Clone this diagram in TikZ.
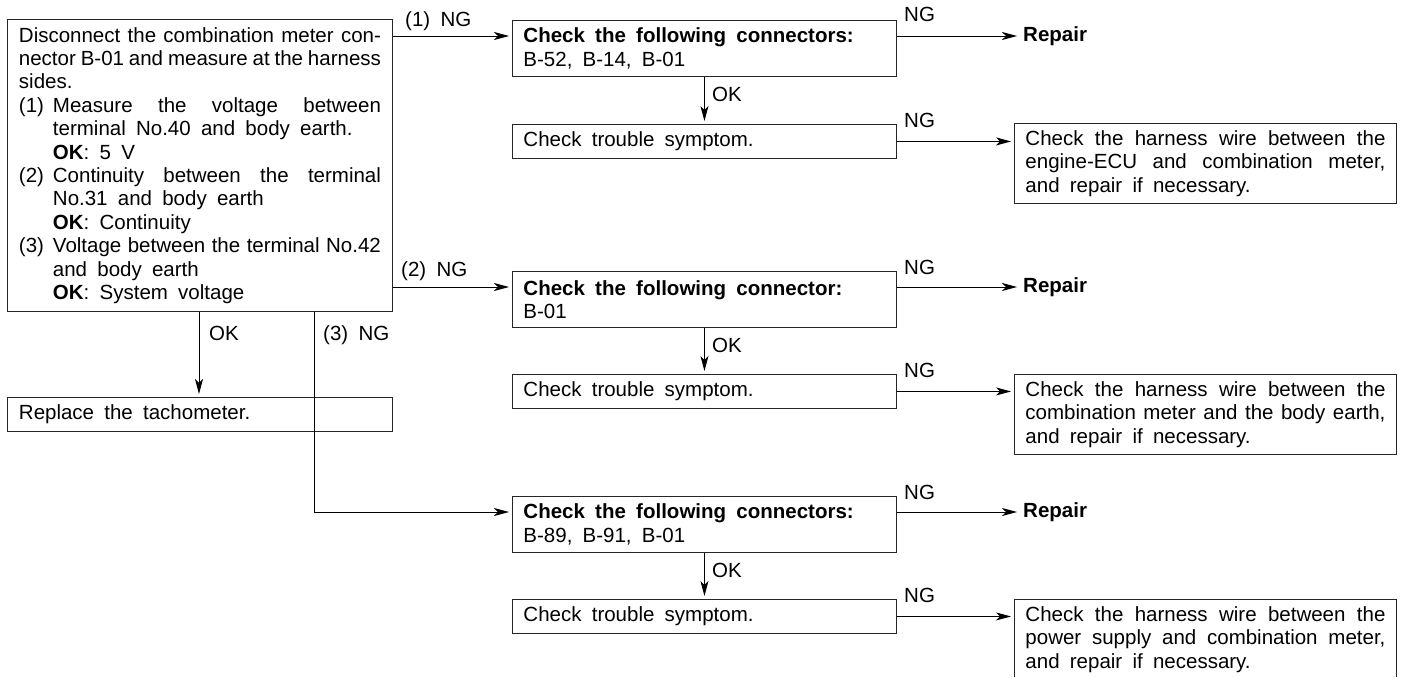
\documentclass[tikz,border=0pt]{standalone}
\usepackage{fontspec}
\setmainfont{Liberation Sans}
\usetikzlibrary{arrows.meta}
\newcommand\dfont{\fontsize{20.5}{23.4}\selectfont\spaceskip=0.5em plus 0.8em minus 0.27em\relax}
\begin{document}
\begin{tikzpicture}[x=1pt,y=-1pt,
  every node/.style={font=\dfont},
  box/.style={draw=black!85,line width=0.9pt,rectangle,anchor=north west,inner ysep=0pt,align=justify},
  wbox/.style={box,text width=362pt,inner xsep=11pt},
  hbox/.style={box,text width=360pt,inner xsep=11pt,minimum height=80pt},
  conn/.style={line width=0.9pt,draw=black},
  arr/.style={conn,-{Stealth[length=15pt,width=8pt,inset=4pt]},shorten >=3pt},
  lab/.style={anchor=base west,inner sep=0pt},
  rep/.style={anchor=west,inner xsep=3pt,inner ysep=0pt,font=\dfont\bfseries}]
\useasboundingbox (0,0) rectangle (1407,677);

% main box
\node[box,text width=362pt,inner xsep=11.5pt,minimum height=292pt] (main) at (7,19) {%
\noindent Disconnect the combination meter con-\linebreak nector B-01 and measure at the harness\linebreak sides.\par
\noindent\hangindent=34pt\hangafter=1\makebox[34pt][l]{(1)}Measure the voltage between\linebreak terminal No.40 and body earth.\newline\textbf{OK}: 5 V\par
\noindent\hangindent=34pt\hangafter=1\makebox[34pt][l]{(2)}Continuity between the terminal\linebreak No.31 and body earth\newline\textbf{OK}: Continuity\par
\noindent\hangindent=34pt\hangafter=1\makebox[34pt][l]{(3)}Voltage between the terminal No.42\linebreak and body earth\newline\textbf{OK}: System voltage\par};

\node[wbox,text width=362pt,inner xsep=11.5pt,minimum height=34pt] (R) at (7,397) {Replace the tachometer.};

% group 1
\node[wbox,minimum height=56pt] (A1) at (512,20) {\textbf{Check the following connectors:}\newline B-52, B-14, B-01};
\node[wbox,minimum height=34pt] (A2) at (512,124) {Check trouble symptom.};
\node[hbox] (A3) at (1014,123) {Check the harness wire between the\linebreak engine-ECU and combination meter,\linebreak and repair if necessary.};
\node[rep] (RA) at (1020,36) {Repair};

% group 2
\node[wbox,minimum height=56pt] (B1) at (512,271) {\textbf{Check the following connector:}\newline B-01};
\node[wbox,minimum height=34pt] (B2) at (512,374) {Check trouble symptom.};
\node[hbox] (B3) at (1014,374) {Check the harness wire between the\linebreak combination meter and the body earth,\linebreak and repair if necessary.};
\node[rep] (RB) at (1020,287) {Repair};

% group 3
\node[wbox,minimum height=56pt] (C1) at (512,496) {\textbf{Check the following connectors:}\newline B-89, B-91, B-01};
\node[wbox,minimum height=34pt] (C2) at (512,599) {Check trouble symptom.};
\node[box,draw=none,text width=360pt,inner xsep=11pt,inner ysep=7pt] (C3) at (1014,599) {Check the harness wire between the\linebreak power supply and combination meter,\linebreak and repair if necessary.};
\node[rep] (RC) at (1020,512) {Repair};
\coordinate (pb) at (0,677);
\draw[draw=black!85,line width=0.9pt] (C3.north west |- pb) -- (C3.north west) -- (C3.north east) -- (C3.north east |- pb);

% entry coordinates
\coordinate (a1in) at ([yshift=-16pt]A1.north west);
\coordinate (b1in) at ([yshift=-16pt]B1.north west);
\coordinate (c1in) at ([yshift=-16pt]C1.north west);
\coordinate (okx) at (199,0);
\coordinate (ngx) at (314,0);

% connectors from main box
\draw[arr] (a1in -| main.east) -- (a1in);
\draw[arr] (b1in -| main.east) -- (b1in);
\draw[arr] (main.south -| ngx) -- (c1in -| ngx) -- (c1in);
\draw[arr] (main.south -| okx) -- (R.north -| okx);
\node[lab] (l1) at (405,27) {(1) NG};
\node[lab] (l2) at (401,276) {(2) NG};
\node[lab] (l3) at (323,340) {(3) NG};
\node[lab] (l4) at (209,340) {OK};

% group connectors
\foreach \a/\b/\c/\r in {A1/A2/A3/RA,B1/B2/B3/RB,C1/C2/C3/RC}{
  \draw[arr] (\a.south) -- (\b.north);
  \draw[arr] (\r.west -| \a.east) -- (\r.west);
  \draw[arr] (\b.east) -- (\b.east -| \c.west);
}
\node[lab] (ok1) at (712,101) {OK};
\node[lab] (ok2) at (712,352) {OK};
\node[lab] (ok3) at (712,577) {OK};
\node[lab] (ng1) at (904,22) {NG};
\node[lab] (ng2) at (904,127) {NG};
\node[lab] (ng3) at (904,274) {NG};
\node[lab] (ng4) at (904,377) {NG};
\node[lab] (ng5) at (904,499) {NG};
\node[lab] (ng6) at (904,602) {NG};
\end{tikzpicture}
\end{document}
